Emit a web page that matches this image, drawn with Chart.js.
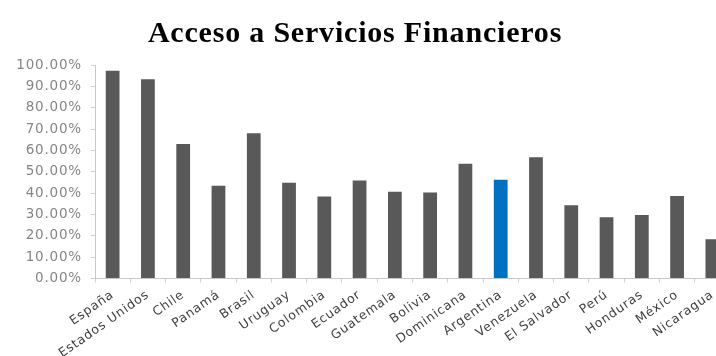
<!DOCTYPE html>
<html>
<head>
<meta charset="utf-8">
<script src="https://cdn.jsdelivr.net/npm/chart.js@4/dist/chart.umd.min.js"></script>
<style>
  html, body { margin: 0; padding: 0; background: #fff; overflow: hidden; }
  #wrap { width: 716px; height: 356px; overflow: hidden; }
  #accesoChart { margin-left: -20px; }
</style>
</head>
<body>
<div id="wrap"><canvas id="accesoChart" width="750" height="356"></canvas></div>
<script>
// Porcentaje de acceso a servicios financieros por país
const paises = ['España', 'Estados Unidos', 'Chile', 'Panamá', 'Brasil', 'Uruguay', 'Colombia',
    'Ecuador', 'Guatemala', 'Bolivia', 'Dominicana', 'Argentina', 'Venezuela', 'El Salvador',
    'Perú', 'Honduras', 'México', 'Nicaragua'];
const acceso = [97.3, 93.3, 63.0, 43.4, 68.0, 44.9, 38.4, 45.9, 40.6, 40.3, 53.7, 46.2, 56.8,
    34.3, 28.7, 29.7, 38.7, 18.4];
const destacado = 'Argentina';

// Slightly wider glyph spacing on the axis text
const spacingPlugin = {
    id: 'spacing',
    beforeUpdate(chart) { chart.ctx.letterSpacing = '0.8px'; },
    beforeDraw(chart) { chart.ctx.letterSpacing = '0.8px'; }
};

const ctx = document.getElementById('accesoChart').getContext('2d');
const chart = new Chart(ctx, {
    type: 'bar',
    data: {
        labels: paises,
        datasets: [{
            label: 'Acceso',
            data: acceso.map(v => v / 100),
            backgroundColor: paises.map(p => p === destacado ? '#0070C0' : '#595959'),
            barPercentage: 0.39,
            categoryPercentage: 1
        }]
    },
    options: {
        responsive: false,
        animation: false,
        layout: { padding: 0 },
        plugins: {
            legend: { display: false },
            tooltip: { enabled: false },
            title: {
                display: true,
                text: 'Acceso a Servicios Financieros',
                color: '#000',
                font: { family: 'Liberation Serif', size: 30, weight: 'bold' },
                padding: { top: 16, bottom: 13 }
            }
        },
        scales: {
            x: {
                grid: { drawOnChartArea: false, color: '#d0d0d0', tickLength: 4 },
                border: { color: '#c8c8c8' },
                ticks: {
                    color: '#404040',
                    font: { family: 'DejaVu Sans', size: 12.5 },
                    maxRotation: 35,
                    minRotation: 35,
                    autoSkip: false,
                    padding: 5
                },
                afterFit(scale) { scale.height = 77.5; }
            },
            y: {
                min: 0,
                max: 1,
                ticks: {
                    stepSize: 0.1,
                    color: '#858585',
                    font: { family: 'DejaVu Sans', size: 13.5 },
                    padding: 9,
                    callback: v => (v * 100).toFixed(2) + '%'
                },
                grid: { drawOnChartArea: false, color: '#d0d0d0', tickLength: 4 },
                border: { color: '#c8c8c8' },
                afterFit(scale) { scale.width = 115; }
            }
        }
    },
    plugins: [spacingPlugin]
});
</script>
</body>
</html>
